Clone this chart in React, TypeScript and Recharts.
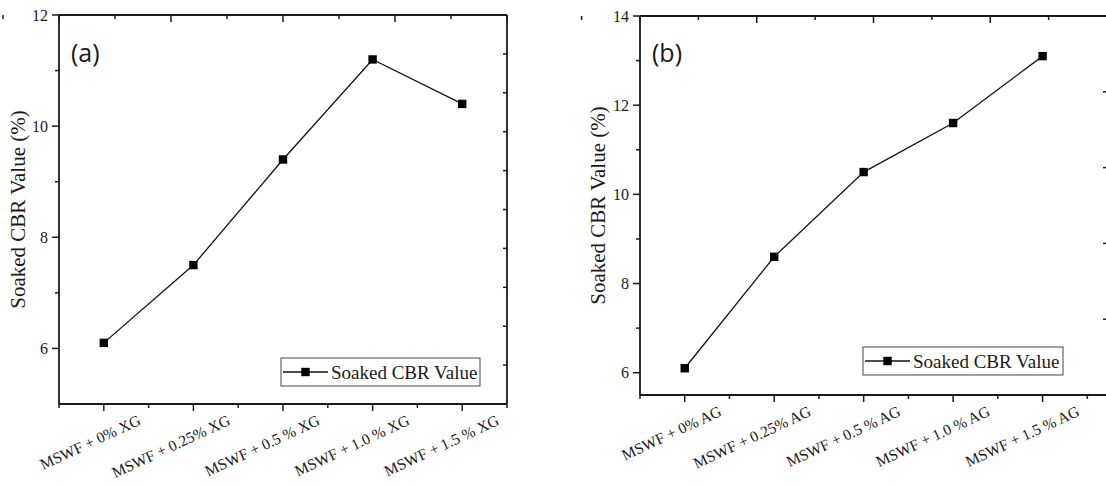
import React from 'react'
import { LineChart, Line, XAxis, YAxis } from 'recharts'

const SERIF = 'Liberation Serif, Times New Roman, serif'
const SANS = 'Open Sans, Noto Sans, sans-serif'
const INK = '#1a1a1a'

const SERIES_NAME = 'Soaked CBR Value'
const Y_LABEL = 'Soaked CBR Value (%)'

// panel (a): xanthan gum
const xgLabels = ['MSWF + 0% XG', 'MSWF + 0.25% XG', 'MSWF + 0.5 % XG', 'MSWF + 1.0 % XG', 'MSWF + 1.5 % XG']
const xgCbr = [6.1, 7.5, 9.4, 11.2, 10.4]
const xgYTicks = [6, 7, 8, 9, 10, 11, 12]

// panel (b): agar gum
const agLabels = ['MSWF + 0% AG', 'MSWF + 0.25% AG', 'MSWF + 0.5 % AG', 'MSWF + 1.0 % AG', 'MSWF + 1.5 % AG']
const agCbr = [6.1, 8.6, 10.5, 11.6, 13.1]
const agYTicks = [6, 7, 8, 9, 10, 11, 12, 13, 14]

const xTicks = [-0.5, 0, 0.5, 1, 1.5, 2, 2.5, 3, 3.5, 4, 4.5]
const xgSideTicks = [1, 2, 3, 4, 5, 6, 7, 8, 9]
const agSideTicks = [1, 2, 3, 4]

const AXIS = { stroke: INK, strokeWidth: 1.8 }

function BottomTick({ x, y, payload, labels }: any) {
  const v = payload.value
  const major = Number.isInteger(v)
  const ax = x + 38
  const ay = y + 20
  return (
    <g>
      <line x1={x} x2={x} y1={y} y2={y + (major ? 7 : 4)} stroke={INK} strokeWidth={1.5} />
      {major && labels[v] ? (
        <text x={ax} y={ay} textAnchor="end" transform={`rotate(-25, ${ax}, ${ay})`} fontFamily={SERIF} fontSize={15.5} fill={INK}>
          {labels[v]}
        </text>
      ) : null}
    </g>
  )
}

function TopTick({ x, y, payload }: any) {
  const major = Number.isInteger(payload.value)
  return <line x1={x} x2={x} y1={y} y2={y + (major ? 7 : 4)} stroke={INK} strokeWidth={1.5} />
}

function LeftTick({ x, y, payload }: any) {
  const major = payload.value % 2 === 0
  return (
    <g>
      <line x1={x - (major ? 7 : 4)} x2={x} y1={y} y2={y} stroke={INK} strokeWidth={1.5} />
      {major ? (
        <text x={x - 11} y={y} dy="0.35em" textAnchor="end" fontFamily={SERIF} fontSize={16} fill={INK}>
          {payload.value}
        </text>
      ) : null}
    </g>
  )
}

function RightTick({ x, y }: any) {
  return <line x1={x - 4} x2={x} y1={y} y2={y} stroke={INK} strokeWidth={1.5} />
}

const SquareDot = (p: any) => (
  <rect key={`dot-${p.index}`} x={p.cx - 4.2} y={p.cy - 4.2} width={8.4} height={8.4} fill="#000" />
)

function Panel({ labels, values, yDomain, yTicks, sideDomain, sideTicks, xMax, left, right, top, bottom, yLabelX }: any) {
  const data = values.map((v: number, i: number) => ({ i, v }))
  return (
    <LineChart width={560} height={486} data={data} margin={{ top: 0, right: 0, bottom: 0, left: 0 }}>
      <XAxis
        xAxisId="b" dataKey="i" type="number" domain={[-0.5, xMax]} ticks={xTicks} interval={0}
        allowDataOverflow height={486 - bottom} tickSize={0} tickMargin={0} axisLine={AXIS} tickLine={false}
        tick={(p: any) => <BottomTick {...p} labels={labels} />}
      />
      <XAxis
        xAxisId="t" orientation="top" type="number" domain={[-0.5, xMax]} ticks={xTicks} interval={0}
        allowDataOverflow height={top} tickSize={0} tickMargin={0} axisLine={AXIS} tickLine={false}
        tick={(p: any) => <TopTick {...p} />}
      />
      <YAxis
        yAxisId="l" type="number" domain={yDomain} ticks={yTicks} interval={0} allowDataOverflow
        width={left} tickSize={0} tickMargin={0} axisLine={AXIS} tickLine={false}
        tick={(p: any) => <LeftTick {...p} />}
        label={{
          value: Y_LABEL, angle: -90, position: 'insideLeft', offset: yLabelX,
          fontFamily: SERIF, fontSize: 21, fill: INK,
          style: { textAnchor: 'middle', fontFamily: SERIF, fontSize: 21, fill: INK },
        }}
      />
      <YAxis
        yAxisId="r" orientation="right" type="number" domain={sideDomain} ticks={sideTicks} interval={0} allowDataOverflow
        width={560 - right} tickSize={0} tickMargin={0} axisLine={AXIS} tickLine={false}
        tick={(p: any) => <RightTick {...p} />}
      />
      <Line
        xAxisId="b" yAxisId="l" dataKey="v" name={SERIES_NAME} stroke="#111" strokeWidth={1.3}
        dot={SquareDot} activeDot={false} isAnimationActive={false}
      />
    </LineChart>
  )
}

function LegendBox({ x, y, w }: any) {
  return (
    <g>
      <rect x={x} y={y} width={w} height={28} fill="#fff" stroke="#444" strokeWidth={1} />
      <line x1={x + 2} x2={x + 47} y1={y + 14} y2={y + 14} stroke="#111" strokeWidth={1.3} />
      <rect x={x + 20.3} y={y + 9.8} width={8.4} height={8.4} fill="#000" />
      <text x={x + 50} y={y + 20.5} fontFamily={SERIF} fontSize={19} fill={INK}>{SERIES_NAME}</text>
    </g>
  )
}

export default function App() {
  return (
    <div style={{ position: 'fixed', left: 0, top: 0, width: 1106, height: 486, overflow: 'hidden', background: '#fff' }}>
      <div style={{ position: 'absolute', left: 0, top: 0 }}>
        <Panel
          labels={xgLabels} values={xgCbr} yDomain={[5, 12]} yTicks={xgYTicks}
          sideDomain={[0, 10]} sideTicks={xgSideTicks} xMax={4.5}
          left={59} right={507} top={15} bottom={404} yLabelX={18}
        />
      </div>
      <div style={{ position: 'absolute', left: 560, top: 0 }}>
        <Panel
          labels={agLabels} values={agCbr} yDomain={[5.5, 14]} yTicks={agYTicks}
          sideDomain={[0, 5]} sideTicks={agSideTicks} xMax={4.72}
          left={80} right={547} top={16} bottom={395} yLabelX={38}
        />
      </div>
      <svg width={1106} height={486} style={{ position: 'absolute', left: 0, top: 0, pointerEvents: 'none' }}>
        <text x={71} y={62} fontFamily={SANS} fontSize={25} fill={INK}>(a)</text>
        <text x={652} y={62} fontFamily={SANS} fontSize={25} fill={INK}>(b)</text>
        <LegendBox x={281} y={358} w={199} />
        <LegendBox x={863} y={347} w={200} />
      </svg>
    </div>
  )
}
